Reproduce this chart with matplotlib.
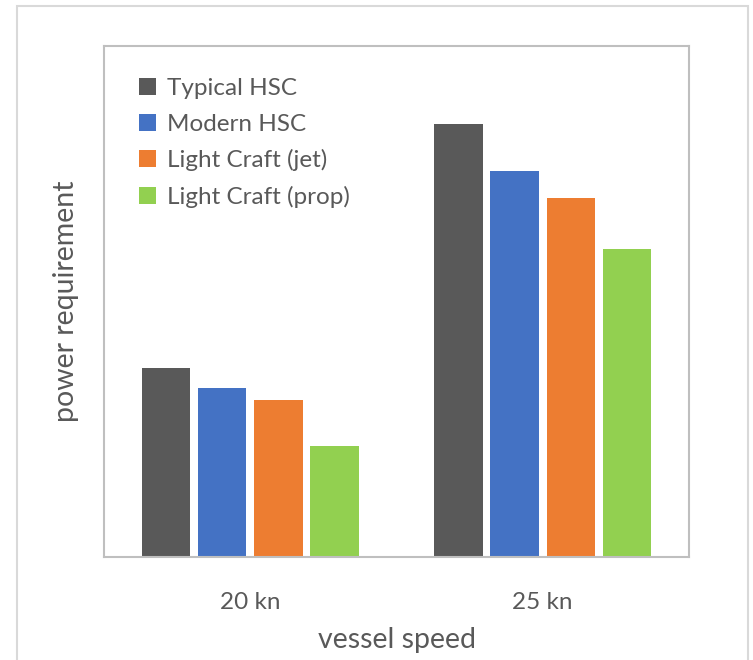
import numpy as np
import matplotlib
matplotlib.use('Agg')
import matplotlib.pyplot as plt
from matplotlib.patches import Rectangle

plt.rcParams['font.family'] = ['Lato', 'DejaVu Sans']

speeds = ["20 kn", "25 kn"]
series = ["Typical HSC", "Modern HSC", "Light Craft (jet)", "Light Craft (prop)"]
typical_hsc = [189, 433]
modern_hsc = [169, 386]
light_jet = [157, 359]
light_prop = [111, 308]
colors = ["#595959", "#4472C4", "#ED7D31", "#92D050"]

data = [typical_hsc, modern_hsc, light_jet, light_prop]
text_col = "#595959"

fig = plt.figure(figsize=(7.53, 6.6), dpi=100)
ax = fig.add_axes([104/753, 103/660, 585/753, 511/660])

# outer chart frame
fig.patches.append(Rectangle((17/753, -0.05), 731/753, 1.05 - 6/660,
                             transform=fig.transFigure, fill=False,
                             edgecolor="#D9D9D9", linewidth=1.5))

x = np.arange(len(speeds))
width = 0.166
step = 0.192
for i, vals in enumerate(data):
    ax.bar(x + (i - 1.5) * step, vals, width, color=colors[i], label=series[i])

ax.set_xlim(-0.5, 1.5)
ax.set_ylim(0, 511)
ax.set_yticks([])
ax.set_xticks(x)
ax.set_xticklabels(speeds, fontsize=17.5, color=text_col)
ax.tick_params(axis='x', length=0, pad=25)
for s in ax.spines.values():
    s.set_color("#BFBFBF")
    s.set_linewidth(1.5)

ax.set_xlabel("vessel speed", fontsize=20.5, color=text_col, labelpad=10)
ax.set_ylabel("power requirement", fontsize=20.5, color=text_col, labelpad=18)

leg = ax.legend(loc='upper left', bbox_to_anchor=(0.022, 0.98), frameon=False,
                fontsize=17.5, handlelength=0.7, handleheight=0.7,
                handletextpad=0.45, labelspacing=0.6)
for t in leg.get_texts():
    t.set_color(text_col)

plt.savefig('out.png', dpi=100)
